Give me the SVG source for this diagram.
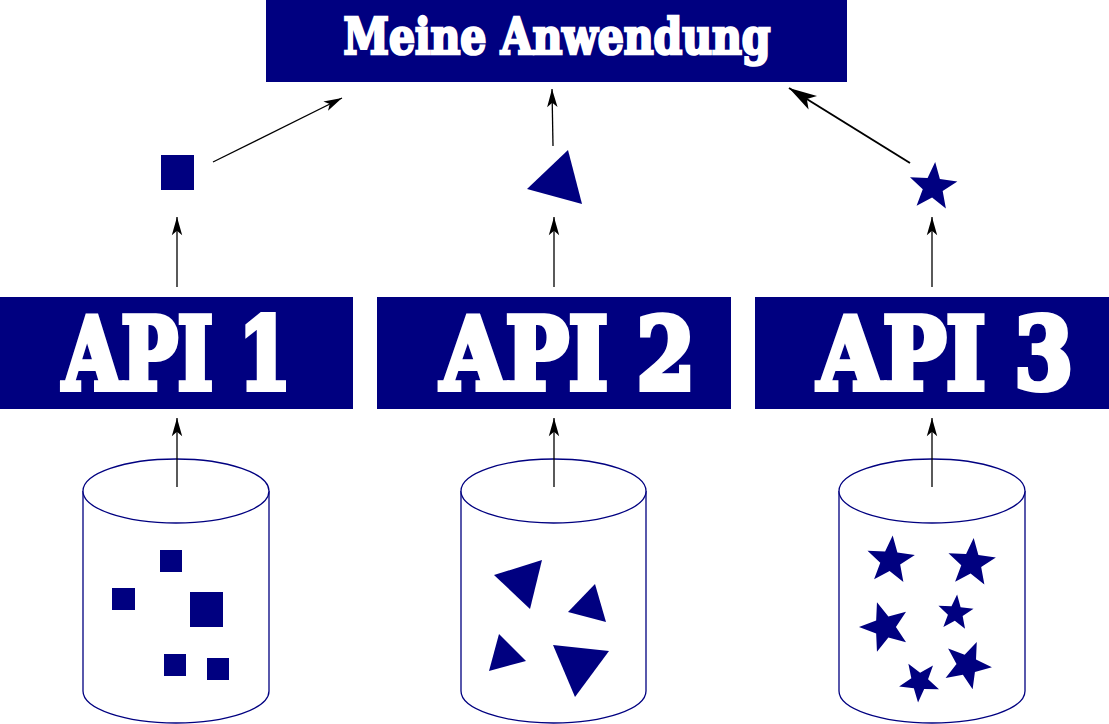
<svg xmlns="http://www.w3.org/2000/svg" xmlns:xlink="http://www.w3.org/1999/xlink" width="1109" height="724" viewBox="0 0 1109 724">
<style>
.box{fill:#000080}
.title{font-family:"DejaVu Serif Condensed","DejaVu Serif","Liberation Serif",serif;font-weight:bold;fill:#ffffff;stroke:#ffffff;stroke-linejoin:miter}
.big{stroke-width:6}
.small{stroke-width:2.6}
.cyl{fill:#ffffff;stroke:#000080;stroke-width:1.3}
.shape{fill:#000080;stroke:none}
.conn{fill:none;stroke:#000000;stroke-width:1.3;marker-end:url(#ah)}
.conn.thick{stroke-width:2}
</style>
<defs>
<marker id="ah" markerUnits="strokeWidth" markerWidth="16" markerHeight="10" viewBox="-15 -5 16 10" refX="0" refY="0" orient="auto" overflow="visible">
<path d="M0,0 L-14,-4 L-10.5,0 L-14,4 Z" fill="#000000"/>
</marker>
<polygon id="star" points="0,-1 0.247,-0.34 0.9511,-0.309 0.3996,0.13 0.5878,0.809 0,0.42 -0.5878,0.809 -0.3996,0.13 -0.9511,-0.309 -0.247,-0.34"/>
</defs>

<g id="app">
<rect class="box" x="266" y="0" width="581" height="82"/>
<text class="title small" x="343.5" y="54" font-size="50" textLength="427" lengthAdjust="spacingAndGlyphs">Meine Anwendung</text>
</g>

<g id="api1">
<rect class="box" x="0" y="297" width="353" height="112"/>
<text class="title big" x="63" y="389" font-size="100" textLength="228" lengthAdjust="spacingAndGlyphs">API 1</text>
</g>
<g id="api2">
<rect class="box" x="377" y="297" width="354" height="112"/>
<text class="title big" x="441" y="389" font-size="100" textLength="254" lengthAdjust="spacingAndGlyphs">API 2</text>
</g>
<g id="api3">
<rect class="box" x="755" y="297" width="354" height="112"/>
<text class="title big" x="818" y="389" font-size="100" textLength="255" lengthAdjust="spacingAndGlyphs">API 3</text>
</g>

<g id="db1">
<path class="cyl" d="M83,491 V691 A93,32 0 0 0 269,691 V491"/>
<ellipse class="cyl" cx="176" cy="491" rx="93" ry="32"/>
<rect class="shape" x="160" y="550" width="22" height="22"/>
<rect class="shape" x="112" y="588" width="23" height="22"/>
<rect class="shape" x="190" y="592" width="33" height="35"/>
<rect class="shape" x="164" y="654" width="22" height="22"/>
<rect class="shape" x="207" y="658" width="22" height="22"/>
</g>
<g id="db2">
<path class="cyl" d="M461,491 V691 A92.5,32 0 0 0 646,691 V491"/>
<ellipse class="cyl" cx="553.5" cy="491" rx="92.5" ry="32"/>
<polygon class="shape" points="494,575 542,560 530,609"/>
<polygon class="shape" points="568,612 595,584 606,622"/>
<polygon class="shape" points="499,634 526,661 489,671"/>
<polygon class="shape" points="553,645 609,651 575,697"/>
</g>
<g id="db3">
<path class="cyl" d="M839,491 V691 A93,32 0 0 0 1025,691 V491"/>
<ellipse class="cyl" cx="932" cy="491" rx="93" ry="32"/>
<use xlink:href="#star" class="shape" transform="translate(890.5,560.5) rotate(5) scale(25)"/>
<use xlink:href="#star" class="shape" transform="translate(971.5,563) rotate(5) scale(25)"/>
<use xlink:href="#star" class="shape" transform="translate(955.5,613) rotate(5) scale(18.5)"/>
<use xlink:href="#star" class="shape" transform="translate(885,627) rotate(-18) scale(26)"/>
<use xlink:href="#star" class="shape" transform="translate(919.5,681.5) rotate(184) scale(21)"/>
<use xlink:href="#star" class="shape" transform="translate(967,665) rotate(23) scale(25)"/>
</g>

<g id="item1">
<rect class="shape" x="161" y="155" width="33" height="35"/>
</g>
<g id="item2">
<polygon class="shape" points="527,189 568,150 582,204"/>
</g>
<g id="item3">
<use xlink:href="#star" class="shape" transform="translate(933,187) rotate(5) scale(25)"/>
</g>

<g id="connectors">
<line class="conn" x1="177" y1="487" x2="177" y2="418"/>
<line class="conn" x1="554" y1="487" x2="554" y2="418"/>
<line class="conn" x1="932" y1="487" x2="932" y2="418"/>
<line class="conn" x1="177" y1="287" x2="177" y2="217"/>
<line class="conn" x1="554" y1="287" x2="554" y2="217"/>
<line class="conn" x1="932" y1="287" x2="932" y2="217"/>
<line class="conn" x1="213" y1="162" x2="342" y2="98"/>
<line class="conn" x1="553" y1="146" x2="552" y2="89"/>
<line class="conn thick" x1="910" y1="163" x2="789" y2="88"/>
</g>
</svg>
